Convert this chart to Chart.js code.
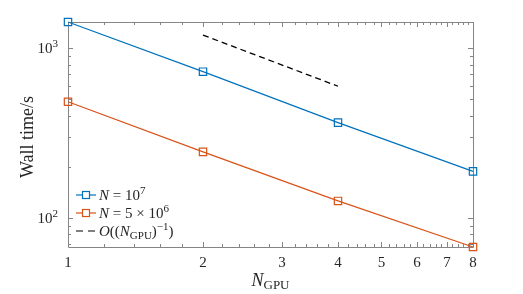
<!DOCTYPE html>
<html>
<head>
<meta charset="utf-8">
<script src="https://cdn.jsdelivr.net/npm/chart.js@4.4.1/dist/chart.umd.min.js"></script>
<style>
  html, body { margin: 0; padding: 0; background: #fff; }
  canvas { display: block; }
</style>
</head>
<body>
<canvas id="wallChart" width="523" height="294"></canvas>
<script>
// data
const GPU_COUNTS = [1, 2, 4, 8];
const TIME_N1E7 = [1423, 726, 364, 188];
const TIME_N5E6 = [483, 245, 126, 67.5];
const REF_X = [2, 4];
const REF_Y = [1192, 596];

const X_TICKS = [1, 2, 3, 4, 5, 6, 7, 8];
const X_TICK_LABELS = ['1', '2', '3', '4', '5', '6', '7', '8'];
const Y_TICKS = [100, 1000];
const Y_TICK_EXP = ['2', '3'];

const BLUE = '#0072BD';
const ORANGE = '#D95319';
const AXIS = '#858585';
const TEXT = '#262626';
const SERIF = '"Liberation Serif", "DejaVu Serif", serif';

// minor tick positions (log axes)
const xMinor = [];
for (let i = 1; i < 8; i++) {
    for (let k = 1; k < 5; k++) xMinor.push(i + k * 0.2);
}
const yMinor = [];
for (let d = 10; d <= 1000; d *= 10) {
    for (let k = 2; k < 10; k++) yMinor.push(k * d);
}

function fontOf(p) {
    return (p.italic ? 'italic ' : '') + p.size + 'px ' + SERIF;
}

// draw a run of text parts (for super/subscripts)
function drawRich(ctx, parts, x, y, align) {
    let w = 0;
    parts.forEach(p => { ctx.font = fontOf(p); w += ctx.measureText(p.t).width; });
    let cx = align === 'right' ? x - w : align === 'center' ? x - w / 2 : x;
    ctx.textAlign = 'left';
    ctx.textBaseline = 'alphabetic';
    parts.forEach(p => {
        ctx.font = fontOf(p);
        ctx.fillText(p.t, cx, y + (p.dy || 0));
        cx += ctx.measureText(p.t).width;
    });
}

const axesPlugin = {
    id: 'matlabAxes',
    beforeDatasetsDraw(chart) {
        const { ctx, chartArea: a } = chart;
        const xs = chart.scales.x, ys = chart.scales.y;
        ctx.save();
        ctx.strokeStyle = AXIS;
        ctx.lineWidth = 1;
        ctx.beginPath();
        ctx.rect(a.left + 0.5, a.top + 0.5, a.right - a.left, a.bottom - a.top);
        ctx.stroke();

        const tick = (px, len, horiz) => {
            px = Math.round(px) + 0.5;
            ctx.beginPath();
            if (horiz) {
                ctx.moveTo(px, a.bottom); ctx.lineTo(px, a.bottom - len);
                ctx.moveTo(px, a.top); ctx.lineTo(px, a.top + len);
            } else {
                ctx.moveTo(a.left, px); ctx.lineTo(a.left + len, px);
                ctx.moveTo(a.right, px); ctx.lineTo(a.right - len, px);
            }
            ctx.stroke();
        };
        X_TICKS.forEach(v => tick(xs.getPixelForValue(v), 5, true));
        xMinor.forEach(v => tick(xs.getPixelForValue(v), 3, true));
        Y_TICKS.forEach(v => tick(ys.getPixelForValue(v), 5, false));
        yMinor.forEach(v => {
            if (v > ys.min && v < ys.max) tick(ys.getPixelForValue(v), 3, false);
        });

        ctx.fillStyle = TEXT;
        X_TICKS.forEach((v, i) => {
            drawRich(ctx, [{ t: X_TICK_LABELS[i], size: 15 }], xs.getPixelForValue(v), a.bottom + 20, 'center');
        });
        Y_TICKS.forEach((v, i) => {
            drawRich(ctx, [{ t: '10', size: 15 }, { t: Y_TICK_EXP[i], size: 11, dy: -6 }],
                a.left - 10, ys.getPixelForValue(v) + 5, 'right');
        });

        // axis titles
        drawRich(ctx, [{ t: 'N', size: 18, italic: true }, { t: 'GPU', size: 13, dy: 3 }],
            (a.left + a.right) / 2, 286, 'center');
        ctx.save();
        ctx.translate(33, 137);
        ctx.rotate(-Math.PI / 2);
        drawRich(ctx, [{ t: 'Wall time/s', size: 18 }], 0, 0, 'center');
        ctx.restore();
        ctx.restore();
    },
    afterDraw(chart) {
        const { ctx } = chart;
        const rows = [
            { color: BLUE, marker: true, dash: [],
              parts: [{ t: 'N', italic: true }, { t: ' = 10' }, { t: '7', size: 11, dy: -6 }] },
            { color: ORANGE, marker: true, dash: [],
              parts: [{ t: 'N', italic: true }, { t: ' = 5 \u00d7 10' }, { t: '6', size: 11, dy: -6 }] },
            { color: '#000', marker: false, dash: [7, 5],
              parts: [{ t: 'O', italic: true }, { t: '((' }, { t: 'N', italic: true },
                      { t: 'GPU', size: 11, dy: 3 }, { t: ')' }, { t: '\u22121', size: 11, dy: -6 }, { t: ')' }] }
        ];
        const y0 = 195, dy = 18, lx0 = 76, lx1 = 96;
        ctx.save();
        rows.forEach((r, i) => {
            const y = y0 + i * dy;
            ctx.strokeStyle = r.color;
            ctx.lineWidth = 1.2;
            ctx.setLineDash(r.dash);
            ctx.beginPath();
            ctx.moveTo(lx0, y); ctx.lineTo(lx1, y);
            ctx.stroke();
            ctx.setLineDash([]);
            if (r.marker) {
                ctx.fillStyle = '#fff';
                ctx.fillRect(82.5, y - 3.5, 7, 7);
                ctx.strokeRect(82.5, y - 3.5, 7, 7);
            }
            ctx.fillStyle = TEXT;
            drawRich(ctx, r.parts.map(p => Object.assign({ size: 15 }, p)), 99, y + 5, 'left');
        });
        ctx.restore();
    }
};

const toPoints = (xs, ys) => xs.map((x, i) => ({ x: x, y: ys[i] }));

new Chart(document.getElementById('wallChart'), {
    type: 'scatter',
    data: {
        datasets: [
            {
                label: 'N = 10^7',
                data: toPoints(GPU_COUNTS, TIME_N1E7),
                showLine: true,
                borderColor: BLUE,
                borderWidth: 1.2,
                pointStyle: 'rect',
                pointRadius: 5.2,
                pointBorderWidth: 1.2,
                pointBorderColor: BLUE,
                pointBackgroundColor: 'rgba(0,0,0,0)',
                clip: false
            },
            {
                label: 'N = 5x10^6',
                data: toPoints(GPU_COUNTS, TIME_N5E6),
                showLine: true,
                borderColor: ORANGE,
                borderWidth: 1.2,
                pointStyle: 'rect',
                pointRadius: 5.2,
                pointBorderWidth: 1.2,
                pointBorderColor: ORANGE,
                pointBackgroundColor: 'rgba(0,0,0,0)',
                clip: false
            },
            {
                label: 'O((N_GPU)^-1)',
                data: toPoints(REF_X, REF_Y),
                showLine: true,
                borderColor: '#000',
                borderWidth: 1.3,
                borderDash: [6, 4],
                pointRadius: 0,
                clip: false
            }
        ]
    },
    options: {
        responsive: false,
        animation: false,
        layout: { padding: { left: 68, right: 50, top: 22, bottom: 47 } },
        plugins: { legend: { display: false }, tooltip: { enabled: false } },
        scales: {
            x: { type: 'logarithmic', min: 1, max: 8, display: false },
            y: {
                type: 'logarithmic',
                min: Math.min(...TIME_N5E6),
                max: Math.max(...TIME_N1E7),
                display: false
            }
        }
    },
    plugins: [axesPlugin]
});
</script>
</body>
</html>
